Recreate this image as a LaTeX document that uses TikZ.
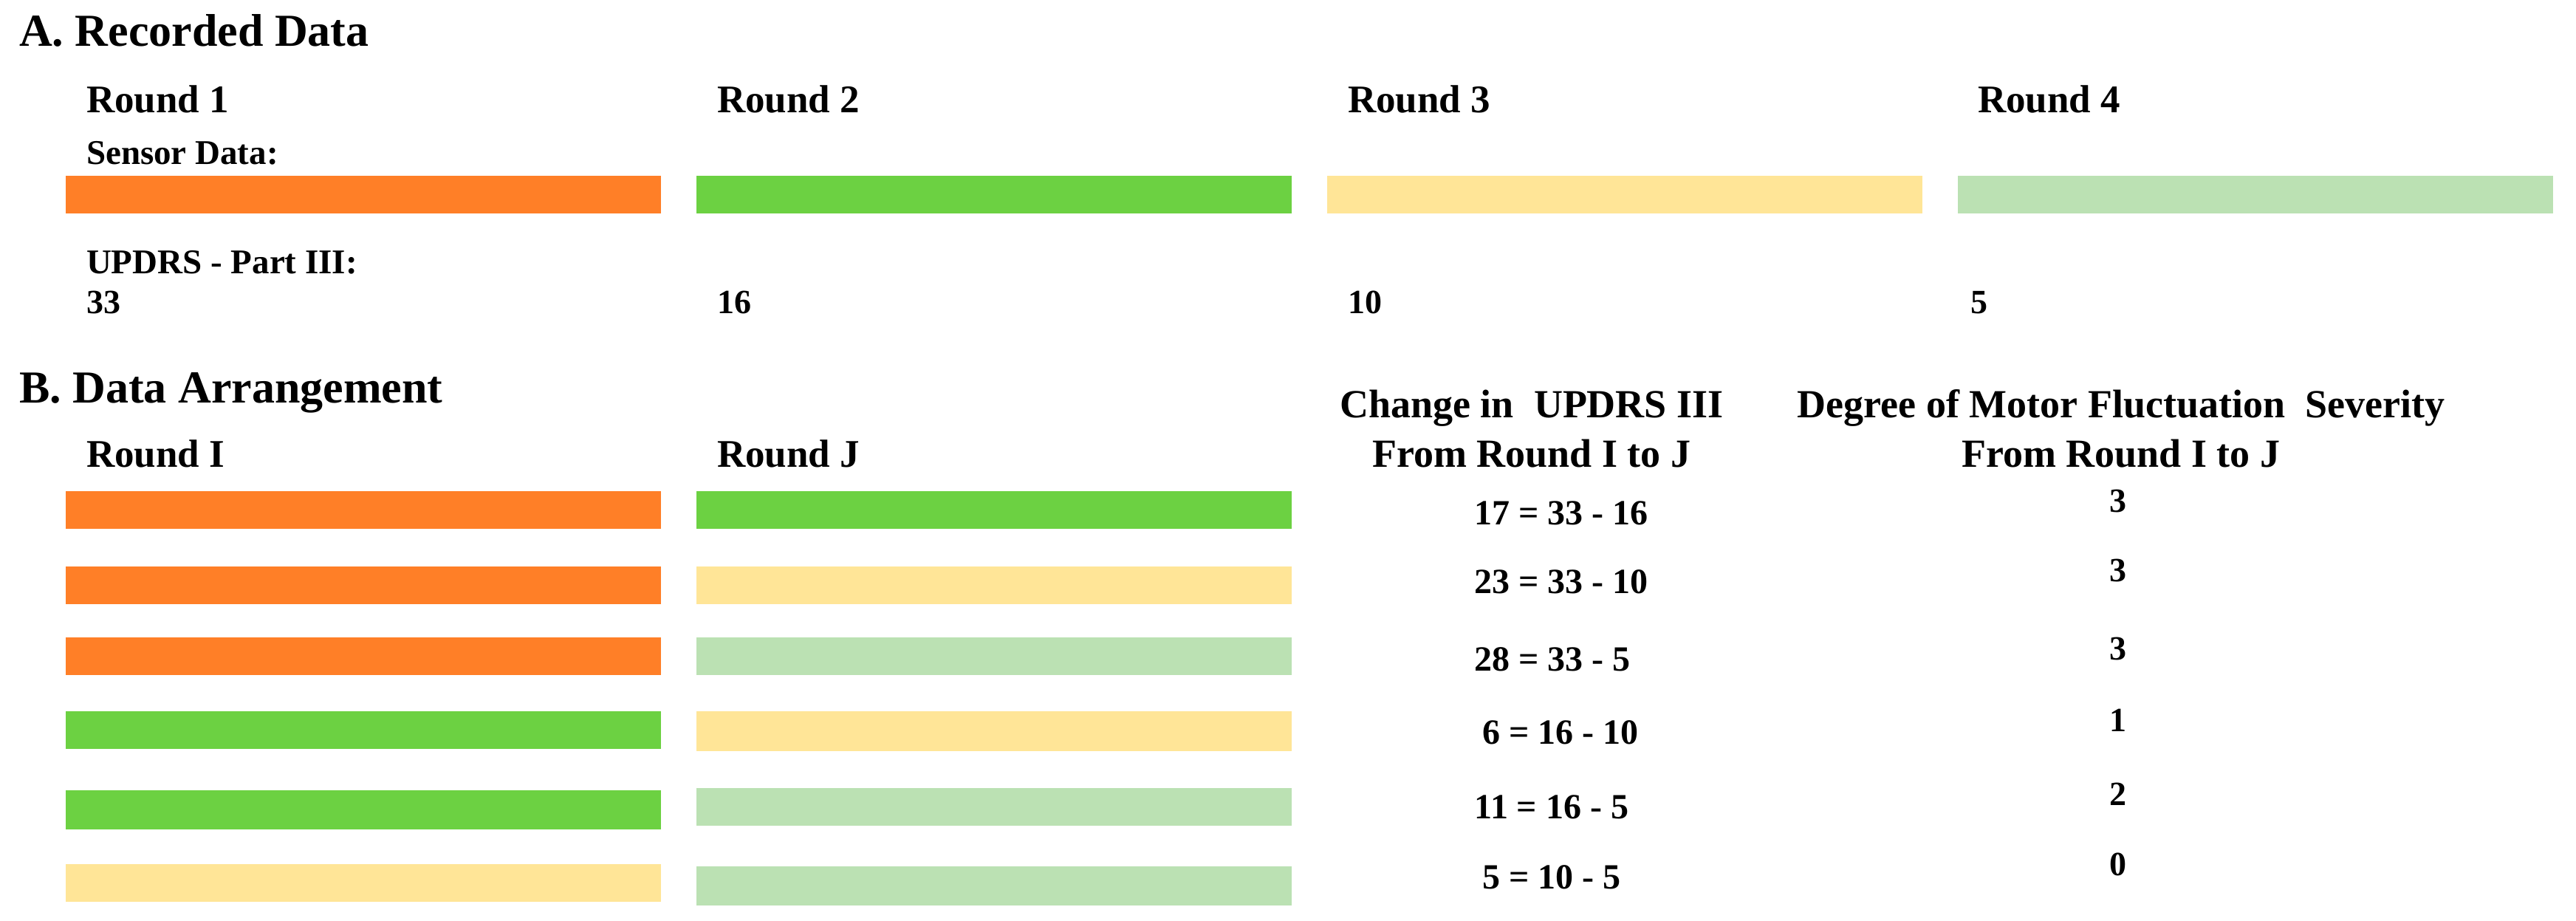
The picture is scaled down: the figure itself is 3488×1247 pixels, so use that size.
\documentclass[tikz,border=0pt]{standalone}
\usepackage{fontspec}
\setmainfont{Liberation Serif}
\definecolor{cOrange}{HTML}{FF7F27}
\definecolor{cGreen}{HTML}{6CD142}
\definecolor{cYellow}{HTML}{FFE597}
\definecolor{cLight}{HTML}{BBE1B3}
\begin{document}
\begin{tikzpicture}[x=1pt,y=-1pt,
  txt/.style={inner sep=0pt, outer sep=0pt},
  head/.style={txt, anchor=base west, font=\fontsize{62}{70}\selectfont\bfseries},
  roundlbl/.style={txt, anchor=base west, font=\fontsize{53}{60}\selectfont\bfseries},
  sublbl/.style={txt, anchor=base west, font=\fontsize{47}{54}\selectfont\bfseries},
  vallbl/.style={txt, anchor=base west, font=\fontsize{46}{52}\selectfont\bfseries},
  colhead/.style={txt, anchor=base, font=\fontsize{54}{60}\selectfont\bfseries},
  chval/.style={txt, anchor=base, font=\fontsize{48}{54}\selectfont\bfseries},
  degval/.style={txt, anchor=base, font=\fontsize{46}{52}\selectfont\bfseries},
  bar/.style={draw=none, inner sep=0pt, outer sep=0pt, anchor=north west, minimum width=806pt, minimum height=51pt}]
\useasboundingbox[fill=white] (0,0) rectangle (3488,1247);

% ---------- A. Recorded Data ----------
\node[head] (hA) at (26,63) {A. Recorded Data};
\node[roundlbl] (r1) at (117,152) {Round 1};
\node[roundlbl] (r2) at (971,152) {Round 2};
\node[roundlbl] (r3) at (1825,152) {Round 3};
\node[roundlbl] (r4) at (2678,152) {Round 4};
\node[sublbl] (sens) at (117,222) {Sensor Data:};
\node[bar, fill=cOrange] (a1) at (89,238) {};
\node[bar, fill=cGreen]  (a2) at (943,238) {};
\node[bar, fill=cYellow] (a3) at (1797,238) {};
\node[bar, fill=cLight]  (a4) at (2651,238) {};
\node[sublbl] (updrs) at (117,370) {UPDRS - Part III:};
\node[vallbl] (v1) at (117,424) {33};
\node[vallbl] (v2) at (971,424) {16};
\node[vallbl] (v3) at (1825,424) {10};
\node[vallbl] (v4) at (2668,424) {5};

% ---------- B. Data Arrangement ----------
\node[head] (hB) at (26,545) {B. Data Arrangement};
\node[roundlbl] (rI) at (117,632) {Round I};
\node[roundlbl] (rJ) at (971,632) {Round J};
\node[colhead] (ch1) at (2074,565) {Change in\ \ UPDRS III};
\node[colhead] (ch2) at (2074,632) {From Round I to J};
\node[colhead] (dg1) at (2872,565) {Degree of Motor Fluctuation\ \ Severity};
\node[colhead] (dg2) at (2872,632) {From Round I to J};

% rows
\node[bar, fill=cOrange] (l1) at (89,665) {};
\node[bar, fill=cGreen]  (j1) at (943,665) {};
\node[bar, fill=cOrange] (l2) at (89,767) {};
\node[bar, fill=cYellow] (j2) at (943,767) {};
\node[bar, fill=cOrange] (l3) at (89,863) {};
\node[bar, fill=cLight]  (j3) at (943,863) {};
\node[bar, fill=cGreen]  (l4) at (89,963) {};
\node[bar, fill=cYellow, minimum height=54pt] (j4) at (943,963) {};
\node[bar, fill=cGreen, minimum height=53pt]  (l5) at (89,1070) {};
\node[bar, fill=cLight]  (j5) at (943,1067) {};
\node[bar, fill=cYellow] (l6) at (89,1170) {};
\node[bar, fill=cLight, minimum height=53pt]  (j6) at (943,1173) {};

\node[chval] (c1) at (2114,710) {17 = 33 - 16};
\node[chval] (c2) at (2114,803) {23 = 33 - 10};
\node[chval] (c3) at (2102,908) {28 = 33 - 5};
\node[chval] (c4) at (2113,1007) {6 = 16 - 10};
\node[chval] (c5) at (2101,1108) {11 = 16 - 5};
\node[chval] (c6) at (2101,1203) {5 = 10 - 5};

\node[degval] (d1) at (2868,693) {3};
\node[degval] (d2) at (2868,787) {3};
\node[degval] (d3) at (2868,893) {3};
\node[degval] (d4) at (2868,990) {1};
\node[degval] (d5) at (2868,1090) {2};
\node[degval] (d6) at (2868,1185) {0};
\end{tikzpicture}
\end{document}
